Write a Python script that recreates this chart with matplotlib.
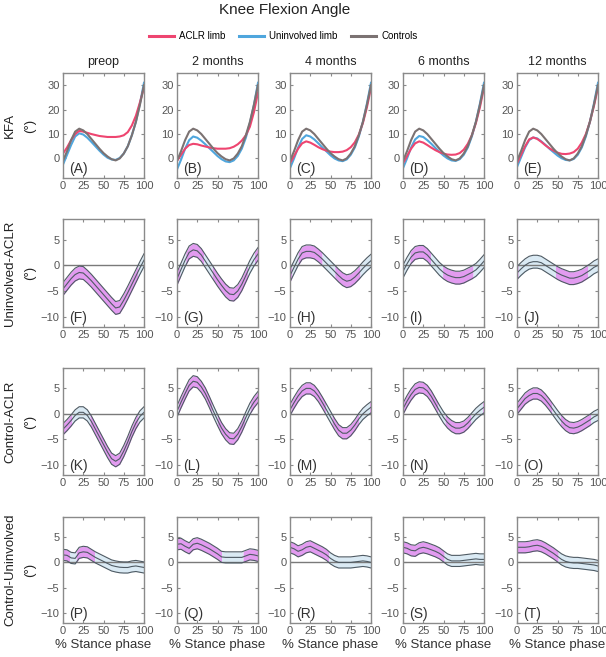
import numpy as np
import matplotlib.pyplot as plt

plt.rcParams['font.family'] = ['Liberation Sans', 'DejaVu Sans']

# % stance phase
stance = [0, 5, 10, 15, 20, 25, 30, 35, 40, 45, 50, 55, 60, 65, 70, 75, 80, 85, 90, 95, 100]

timepoints = ['preop', '2 months', '4 months', '6 months', '12 months']

# knee flexion angle (deg)
kfa_controls = [-1, 3, 7.5, 11, 12.2, 11.5, 10, 8, 6, 4, 2.2, 0.8, -0.3, -0.8, 0, 2, 5, 9.5, 15, 22, 30]
kfa_uninvolved = [
    [-2.5, 1.5, 5.5, 9, 10.3, 9.8, 8.5, 6.8, 5, 3.2, 1.6, 0.3, -0.4, -0.6, 0.2, 2, 5, 9.5, 15, 22.5, 31],
    [-4.5, -0.5, 4, 7.5, 9, 8.5, 7.3, 5.8, 4.2, 2.6, 1, -0.3, -1.2, -1.5, -0.8, 1, 4, 8.5, 14.5, 22, 31],
    [-4, 0, 4.5, 8, 9.5, 9, 7.8, 6.2, 4.5, 2.9, 1.3, 0, -0.8, -1.1, -0.4, 1.5, 4.5, 9, 15, 22.5, 31],
    [-4, 0, 4.5, 7.8, 9.2, 8.8, 7.5, 6, 4.3, 2.7, 1.2, 0, -0.8, -1, -0.3, 1.5, 4.5, 9, 15, 22.5, 31],
    [-3.5, 0.5, 4.5, 7.5, 8.6, 8.2, 7, 5.6, 4, 2.6, 1.2, 0.1, -0.6, -0.8, -0.2, 1.5, 4.5, 9, 15, 22.5, 31],
]
kfa_aclr = [
    [2, 4.5, 7.5, 10, 11.3, 11, 10.5, 10, 9.6, 9.2, 9, 8.8, 8.8, 8.8, 9, 9.5, 10.8, 13.5, 17.5, 23, 29],
    [-1, 1.5, 4, 5.5, 6, 5.8, 5.3, 4.9, 4.5, 4.2, 4, 4, 4, 4.2, 4.8, 5.8, 7.3, 9.5, 13, 19, 27],
    [-2, 1, 4, 6.2, 7, 6.5, 5.6, 4.6, 3.8, 3.2, 2.8, 2.6, 2.6, 2.8, 3.4, 4.6, 6.6, 9.8, 14.5, 21, 29],
    [-2, 1, 4, 6.2, 7, 6.5, 5.5, 4.4, 3.4, 2.6, 2, 1.6, 1.5, 1.6, 2.2, 3.6, 6, 9.5, 14.5, 21, 29],
    [-2, 1.5, 5, 7.8, 8.6, 8, 6.8, 5.4, 4.2, 3.2, 2.4, 1.9, 1.8, 2, 2.6, 4, 6.5, 10, 15, 21.5, 29],
]

# between-limb / between-group differences (deg): mean curve, CI half width per row
unv_aclr = [
    [-4.6, -3.6, -2.6, -1.8, -1.4, -1.5, -2.2, -3, -3.9, -4.8, -5.7, -6.6, -7.5, -8.3, -8.1, -6.8, -5.3, -3.7, -2.1, -0.5, 1.0],
    [-2.6, -0.8, 1, 2.5, 3, 2.8, 2, 0.8, -0.4, -1.6, -2.8, -3.9, -4.9, -5.6, -5.7, -5, -3.7, -2, -0.3, 1.1, 2.2],
    [-2, -0.4, 1.2, 2.4, 2.7, 2.7, 2.5, 1.9, 1.2, 0.4, -0.4, -1.2, -2, -2.7, -3.1, -2.9, -2.3, -1.5, -0.6, 0.2, 0.9],
    [-1.2, 0.3, 1.6, 2.4, 2.6, 2.6, 2.0, 1.1, 0.2, -0.7, -1.4, -1.9, -2.2, -2.4, -2.4, -2.2, -1.8, -1.4, -0.9, -0.1, 0.8],
    [-1.5, -0.7, 0, 0.5, 0.7, 0.7, 0.5, 0, -0.5, -1, -1.5, -1.9, -2.2, -2.5, -2.5, -2.3, -2, -1.5, -1, -0.4, 0],
]
ctl_aclr = [
    [-3, -2.2, -1.3, -0.3, 0.3, 0.3, -0.3, -1.5, -3, -4.5, -6, -7.5, -8.8, -9.3, -8.8, -7.3, -5.5, -3.5, -1.8, -0.5, 0.3],
    [0.5, 2.3, 4, 5.6, 6.4, 6.2, 5.3, 4, 2.3, 0.5, -1.2, -2.8, -4, -4.8, -4.9, -4, -2.5, -0.7, 1, 2.3, 3.3],
    [0.8, 2.2, 3.5, 4.5, 5, 5, 4.5, 3.5, 2.2, 0.8, -0.6, -2, -3.2, -3.8, -3.8, -3.2, -2.2, -1, 0, 0.7, 1.3],
    [1, 2.5, 3.8, 4.8, 5.2, 5.1, 4.5, 3.4, 2, 0.6, -0.7, -1.7, -2.4, -2.8, -2.8, -2.5, -1.8, -0.9, 0, 0.7, 1.3],
    [1, 2, 3, 3.6, 4, 4, 3.6, 2.8, 1.8, 0.7, -0.4, -1.4, -2.2, -2.7, -2.8, -2.6, -2.2, -1.7, -1.2, -0.6, -0.2],
]
ctl_unv = [
    [1.5, 1.4, 0.9, 0.8, 1.9, 2.1, 2, 1.5, 1.0, 0.6, 0.2, -0.2, -0.6, -0.8, -0.95, -1.0, -1.0, -0.8, -0.7, -0.85, -1.0],
    [3.6, 3.7, 3.2, 2.8, 3.6, 3.8, 3.5, 3.1, 2.7, 2.2, 1.7, 1.1, 1.0, 1.0, 1.0, 1.0, 1.0, 1.3, 1.6, 1.5, 1.3],
    [3, 2.7, 2.2, 2.5, 3, 3.2, 2.8, 2.4, 2, 1.5, 0.8, 0.3, 0, 0, 0, 0, 0.1, 0.2, 0.3, 0.2, 0],
    [3, 2.8, 2.4, 2.3, 2.8, 3, 2.8, 2.5, 2.2, 1.8, 1.2, 0.6, 0.3, 0.3, 0.3, 0.4, 0.5, 0.6, 0.7, 0.6, 0.6],
    [3, 3, 3, 3.1, 3.3, 3.4, 3.2, 2.8, 2.3, 1.8, 1.2, 0.6, 0.2, 0, -0.1, -0.1, -0.2, -0.3, -0.4, -0.5, -0.7],
]
ci_half = {'Uninvolved-ACLR': 1.25, 'Control-ACLR': 1.1, 'Control-Uninvolved': 1.1}

diff_rows = [('Uninvolved-ACLR', unv_aclr), ('Control-ACLR', ctl_aclr), ('Control-Uninvolved', ctl_unv)]
panel_letters = 'ABCDEFGHIJKLMNOPQRST'

c_aclr = '#EE4570'
c_unv = '#4FA6DD'
c_ctl = '#7B7272'
c_sig = '#E29BF0'
c_ns = '#DAEAF4'
c_edge = '#4E5A63'
c_axis = '#8A8A8A'
c_text = '#555555'

W, H = 606, 657
fig = plt.figure(figsize=(W / 100, H / 100), dpi=100)

col_left = [63, 177, 290, 403, 517]
ax_w = 81
row_tb = [(73, 178), (219, 327), (368, 475), (517, 623)]


def style_axes(ax):
    for s in ax.spines.values():
        s.set_color(c_axis)
        s.set_linewidth(1.0)
    ax.tick_params(direction='in', length=2.5, width=0.8, color=c_axis, labelcolor=c_text,
                   labelsize=8, top=True, right=True, pad=2.5)
    ax.set_xlim(0, 100)
    ax.set_xticks([0, 25, 50, 75, 100])


def band_fill(ax, x, lo, hi):
    # colour the CI band magenta where it excludes zero, light blue otherwise
    runs = []
    for i in range(len(x) - 1):
        ts = [0.0, 1.0]
        for v in (lo, hi):
            if v[i] * v[i + 1] < 0:
                ts.append(v[i] / (v[i] - v[i + 1]))
        ts.sort()
        for t0, t1 in zip(ts[:-1], ts[1:]):
            tm = 0.5 * (t0 + t1)
            sig = (lo[i] + tm * (lo[i + 1] - lo[i]) > 0) or (hi[i] + tm * (hi[i + 1] - hi[i]) < 0)
            pts = [(x[i] + t * (x[i + 1] - x[i]),
                    lo[i] + t * (lo[i + 1] - lo[i]),
                    hi[i] + t * (hi[i + 1] - hi[i])) for t in (t0, t1)]
            if runs and runs[-1][0] == sig:
                runs[-1][1].append(pts[1])
            else:
                runs.append([sig, pts])
    for sig, pts in runs:
        xs, ls, hs = zip(*pts)
        ax.fill_between(xs, ls, hs, color=c_sig if sig else c_ns, lw=0)


axes = []
for r, (t, b) in enumerate(row_tb):
    row = []
    for c in range(5):
        ax = fig.add_axes([col_left[c] / W, 1 - b / H, ax_w / W, (b - t) / H])
        style_axes(ax)
        row.append(ax)
    axes.append(row)

x = np.array(stance, dtype=float)

# row 1: knee flexion angle curves
for c in range(5):
    ax = axes[0][c]
    ax.plot(x, kfa_uninvolved[c], color=c_unv, lw=1.5)
    ax.plot(x, kfa_aclr[c], color=c_aclr, lw=1.5)
    ax.plot(x, kfa_controls, color=c_ctl, lw=1.5)
    ax.set_ylim(-8, 35)
    ax.set_yticks([0, 10, 20, 30])
    ax.set_title(timepoints[c], fontsize=9, color='#222222', pad=6)
    ax.text(0.07, 0.02, '(%s)' % panel_letters[c], transform=ax.transAxes,
            fontsize=10, color='#333333', ha='left', va='bottom')

# rows 2-4: differences with confidence bands
for r, (name, data) in enumerate(diff_rows):
    hw = ci_half[name]
    for c in range(5):
        ax = axes[r + 1][c]
        m = np.array(data[c])
        lo, hi = m - hw, m + hw
        band_fill(ax, x, lo, hi)
        ax.axhline(0, color='#7A7A7A', lw=1.0)
        ax.plot(x, lo, color=c_edge, lw=0.8)
        ax.plot(x, hi, color=c_edge, lw=0.8)
        ax.plot(x, m, color=c_edge, lw=0.8)
        ax.set_ylim(-12, 9)
        ax.set_yticks([-10, -5, 0, 5])
        ax.text(0.07, 0.02, '(%s)' % panel_letters[5 * (r + 1) + c], transform=ax.transAxes,
                fontsize=10, color='#333333', ha='left', va='bottom')
        if r == 2:
            ax.set_xlabel('% Stance phase', fontsize=9.5, color='#333333', labelpad=2)

# row labels
row_names = ['KFA', 'Uninvolved-ACLR', 'Control-ACLR', 'Control-Uninvolved']
for r, (t, b) in enumerate(row_tb):
    yc = 1 - (t + b) / 2 / H
    fig.text(10 / W, yc, row_names[r], rotation=90, ha='center', va='center',
             fontsize=9.5, color='#222222')
    fig.text(30 / W, yc, '(°)', rotation=90, ha='center', va='center',
             fontsize=9.5, color='#222222')

fig.text(285 / W, 1 - 10 / H, 'Knee Flexion Angle', ha='center', va='center',
         fontsize=11, color='#222222')

handles = [plt.Line2D([], [], color=c_aclr, lw=2.2),
           plt.Line2D([], [], color=c_unv, lw=2.2),
           plt.Line2D([], [], color=c_ctl, lw=2.2)]
fig.legend(handles, ['ACLR limb', 'Uninvolved limb', 'Controls'], loc='center',
           bbox_to_anchor=(283 / W, 1 - 36 / H), ncol=3, frameon=False, fontsize=7,
           handlelength=2.6, columnspacing=1.4, handletextpad=0.5)

fig.savefig('out.png', dpi=100)
